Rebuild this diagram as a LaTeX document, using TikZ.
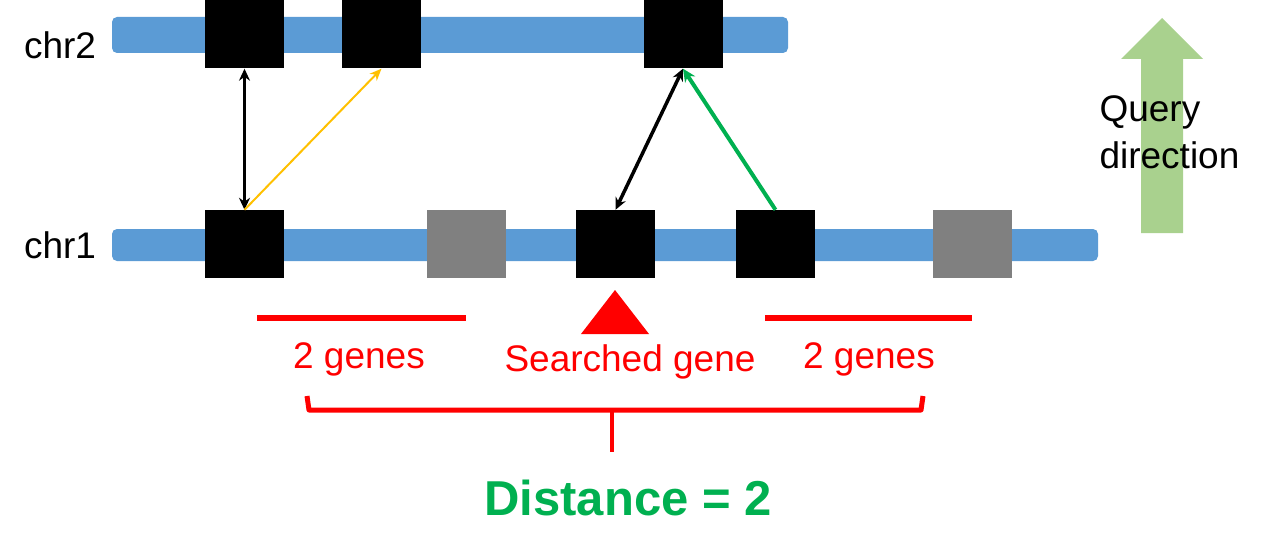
\documentclass[tikz,border=0pt]{standalone}
\usepackage{fontspec}
\setmainfont{Liberation Sans}
\usetikzlibrary{arrows.meta,positioning}

\definecolor{chrblue}{HTML}{5B9BD5}
\definecolor{genegray}{HTML}{808080}
\definecolor{hitgreen}{HTML}{00B050}
\definecolor{hityellow}{HTML}{FFC000}
\definecolor{querygreen}{HTML}{A9D18E}

\begin{document}
\begin{tikzpicture}[
    x=1pt, y=-1pt,
    chrbar/.style={rectangle, rounded corners=5pt, fill=chrblue, inner sep=0pt},
    gene/.style={rectangle, fill=black, minimum width=79pt, minimum height=68pt, inner sep=0pt},
    skipgene/.style={gene, fill=genegray},
    label_txt/.style={font=\fontsize{37}{44}\selectfont},
    red_txt/.style={label_txt, text=red},
    syn_edge/.style={line width=3.5pt, {Stealth[length=12pt,width=11pt]}-{Stealth[length=12pt,width=11pt]}},
    red_line/.style={red, line width=6pt}
]
    \useasboundingbox (0,0) rectangle (1266,559);

    % chromosomes
    \node[chrbar, minimum width=676pt, minimum height=36pt] (chr2) at (450,35) {};
    \node[chrbar, minimum width=986pt, minimum height=32pt] (chr1) at (605,245) {};
    \node[label_txt] (l2) at (60,45) {chr2};
    \node[label_txt] (l1) at (60,245) {chr1};

    % genes on chr2
    \node[gene] (g21) at (244.5,34.5) {};
    \node[gene] (g22) at (381.5,34.5) {};
    \node[gene] (g23) at (683,34.5) {};

    % genes on chr1
    \node[gene] (g11) at (244.5,244) {};
    \node[skipgene] (g12) at (466.5,244) {};
    \node[gene] (g13) at (615.5,244) {};
    \node[gene] (g14) at (775.5,244) {};
    \node[skipgene] (g15) at (972.5,244) {};

    % links
    \draw[syn_edge] (g11.north) -- (g21.south);
    \draw[hityellow, line width=2pt, -{Stealth[length=12pt,width=10pt]}] (g11.north) -- (g22.south);
    \draw[syn_edge] (g13.north) -- (g23.south);
    \draw[hitgreen, line width=4pt, -{Stealth[length=13pt,width=12pt]}] (g14.north) -- (g23.south);

    % searched gene and window
    \fill[red] (615,290) -- (649,334) -- (581,334) -- cycle;
    \draw[red_line] (257,318) -- (466,318);
    \draw[red_line] (765,318) -- (972,318);
    \node[red_txt] (w1) at (359,359) {2 genes};
    \node[red_txt] (sg) at (630,362) {Searched gene};
    \node[red_txt] (w2) at (869,359) {2 genes};

    % bracket
    \draw[red, line width=5pt, line join=round] (307,396) -- (309,410) -- (921,410) -- (923,396);
    \draw[red, line width=4pt] (612,410) -- (612,452);
    \node[font=\bfseries\fontsize{49}{58}\selectfont, text=hitgreen] (dist) at (628,498) {Distance = 2};

    % query direction
    \fill[querygreen] (1141,233) -- (1141,59) -- (1121,59) -- (1162,18) -- (1203,59)
        -- (1183,59) -- (1183,233) -- cycle;
    \node[label_txt, align=left, anchor=west, font=\fontsize{37}{47}\selectfont] (qd) at (1096,132) {Query\\direction};
\end{tikzpicture}
\end{document}
